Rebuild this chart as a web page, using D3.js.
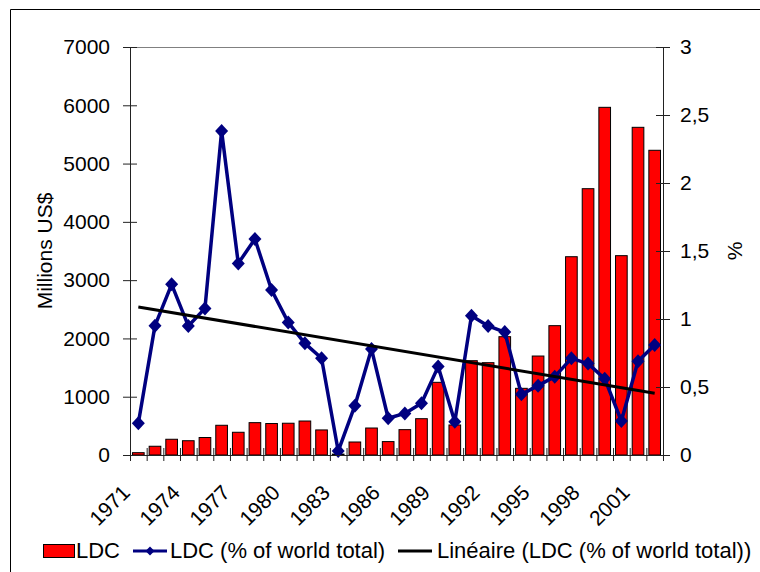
<!DOCTYPE html>
<html>
<head>
<meta charset="utf-8">
<script src="https://cdn.jsdelivr.net/npm/d3@7/dist/d3.min.js"></script>
<style>
  html, body { margin: 0; padding: 0; background: #fff; }
  text { font-family: "Liberation Sans", Arial, sans-serif; fill: #000; }
</style>
</head>
<body>
<svg id="chart" width="760" height="572"></svg>
<script>
// ---------- DATA ----------
const years = d3.range(1971, 2003).map(String);
const ldcValues = [40, 150, 270, 245, 300, 510, 390, 555, 540, 545, 583, 430, 15, 223, 463, 230,
                   435, 623, 1247, 515, 1618, 1584, 2030, 1144, 1698, 2219, 3402, 4569, 5965, 3420, 5622, 5228];
const ldcShare = [0.233, 0.951, 1.255, 0.949, 1.078, 2.382, 1.409, 1.588, 1.213, 0.975, 0.821, 0.711,
                  0.029, 0.363, 0.779, 0.270, 0.306, 0.380, 0.650, 0.245, 1.024, 0.949, 0.904, 0.446,
                  0.510, 0.576, 0.711, 0.672, 0.561, 0.250, 0.689, 0.809];
const leftTicks = [0, 1000, 2000, 3000, 4000, 5000, 6000, 7000];
const rightTicks = [0, 0.5, 1, 1.5, 2, 2.5, 3];
const xLabelYears = ["1971", "1974", "1977", "1980", "1983", "1986", "1989", "1992", "1995", "1998", "2001"];
const legendLabels = ["LDC", "LDC (% of world total)", "Linéaire (LDC (% of world total))"];
const leftTitle = "Millions US$";
const rightTitle = "%";

// ---------- LAYOUT ----------
const svg = d3.select("#chart");
const L = 130, R = 663, T = 47, B = 455;
const FS = 21;

svg.append("rect").attr("width", 760).attr("height", 572).attr("fill", "#fff");
// outer chart frame
svg.append("path").attr("d", "M10.5,572 V9.5 H760").attr("fill", "none").attr("stroke", "#000").attr("stroke-width", 1);

const x = d3.scaleBand().domain(years).range([L, R]).paddingInner(0.3).paddingOuter(0.15);
const yL = d3.scaleLinear().domain([0, 7000]).range([B, T]);
const yR = d3.scaleLinear().domain([0, 3]).range([B, T]);
const step = x.step();
const cx = d => x(d) + x.bandwidth() / 2;
const diamondPath = (w, h) => `M0,${-h}L${w},0L0,${h}L${-w},0Z`;

// plot area top border
svg.append("line").attr("x1", L).attr("x2", R).attr("y1", T + 0.5).attr("y2", T + 0.5)
  .attr("stroke", "#808080").attr("stroke-width", 1);

// bars
svg.append("g").selectAll("rect").data(years).join("rect")
  .attr("x", d => x(d))
  .attr("y", (d, i) => yL(ldcValues[i]))
  .attr("width", x.bandwidth())
  .attr("height", (d, i) => B - yL(ldcValues[i]))
  .attr("fill", "#ff0000").attr("stroke", "#000").attr("stroke-width", 1);

// trend line (least squares on share series)
const n = ldcShare.length;
const xm = d3.mean(d3.range(n));
const ym = d3.mean(ldcShare);
let sxy = 0, sxx = 0;
ldcShare.forEach((v, i) => { sxy += (i - xm) * (v - ym); sxx += (i - xm) * (i - xm); });
const slope = sxy / sxx, icpt = ym - slope * xm;

// share line
const line = d3.line().x((d, i) => cx(years[i])).y(d => yR(d));
svg.append("path").datum(ldcShare).attr("d", line)
  .attr("fill", "none").attr("stroke", "#000080").attr("stroke-width", 3.5).attr("stroke-linejoin", "round");
svg.append("g").selectAll("path").data(ldcShare).join("path")
  .attr("transform", (d, i) => `translate(${cx(years[i])},${yR(d)})`)
  .attr("d", diamondPath(6.5, 7))
  .attr("fill", "#000080");

svg.append("line")
  .attr("x1", cx(years[0])).attr("y1", yR(icpt))
  .attr("x2", cx(years[n - 1])).attr("y2", yR(icpt + slope * (n - 1)))
  .attr("stroke", "#000").attr("stroke-width", 3);

// ---------- AXES ----------
const axColor = "#222";
const gL = svg.append("g").attr("transform", `translate(${L},0)`)
  .call(d3.axisLeft(yL).tickValues(leftTicks).tickSizeInner(7).tickSizeOuter(0).tickPadding(13).tickFormat(d3.format("d")));
gL.selectAll(".tick line").attr("x1", 7);
const gR = svg.append("g").attr("transform", `translate(${R},0)`)
  .call(d3.axisRight(yR).tickValues(rightTicks).tickSizeInner(7).tickSizeOuter(0).tickPadding(10)
    .tickFormat(d => String(d).replace(".", ",")));
gR.selectAll(".tick line").attr("x1", -7);

// x axis: line + ticks at category boundaries
const gX = svg.append("g");
gX.append("line").attr("x1", L).attr("x2", R).attr("y1", B + 0.5).attr("y2", B + 0.5).attr("stroke", axColor);
gX.selectAll("line.t").data(d3.range(years.length + 1)).join("line").attr("class", "t")
  .attr("x1", i => L + i * step + 0.5).attr("x2", i => L + i * step + 0.5)
  .attr("y1", B - 7).attr("y2", B + 6).attr("stroke", axColor);
gX.selectAll("text").data(xLabelYears).join("text")
  .attr("transform", d => `translate(${cx(d) - 7},${B + 39}) rotate(-45)`)
  .attr("text-anchor", "end").attr("font-size", FS).text(d => d);

[gL, gR].forEach(g => {
  g.select(".domain").attr("stroke", axColor);
  g.selectAll(".tick line").attr("stroke", axColor);
  g.selectAll("text").attr("font-size", FS).attr("font-family", "Liberation Sans, Arial, sans-serif").attr("fill", "#000");
});

// axis titles
svg.append("text").attr("transform", "translate(52,251) rotate(-90)").attr("text-anchor", "middle")
  .attr("font-size", FS).text(leftTitle);
svg.append("text").attr("transform", "translate(742,251) rotate(-90)").attr("text-anchor", "middle")
  .attr("font-size", FS).text(rightTitle);

// ---------- LEGEND ----------
const LFS = 22;
const lg = svg.append("g");
const ly = 551;
lg.append("rect").attr("x", 43.5).attr("y", 544.5).attr("width", 31).attr("height", 13)
  .attr("fill", "#ff0000").attr("stroke", "#000");
lg.append("text").attr("x", 76).attr("y", 558).attr("font-size", LFS).text(legendLabels[0]);
lg.append("line").attr("x1", 133).attr("x2", 167).attr("y1", ly).attr("y2", ly).attr("stroke", "#000080").attr("stroke-width", 3);
lg.append("path").attr("d", diamondPath(4.5, 4.5))
  .attr("transform", `translate(150,${ly})`).attr("fill", "#000080");
lg.append("text").attr("x", 170).attr("y", 558).attr("font-size", LFS).text(legendLabels[1]);
lg.append("line").attr("x1", 398).attr("x2", 432).attr("y1", ly).attr("y2", ly).attr("stroke", "#000").attr("stroke-width", 3);
lg.append("text").attr("x", 437).attr("y", 558).attr("font-size", LFS).text(legendLabels[2]);
</script>
</body>
</html>
